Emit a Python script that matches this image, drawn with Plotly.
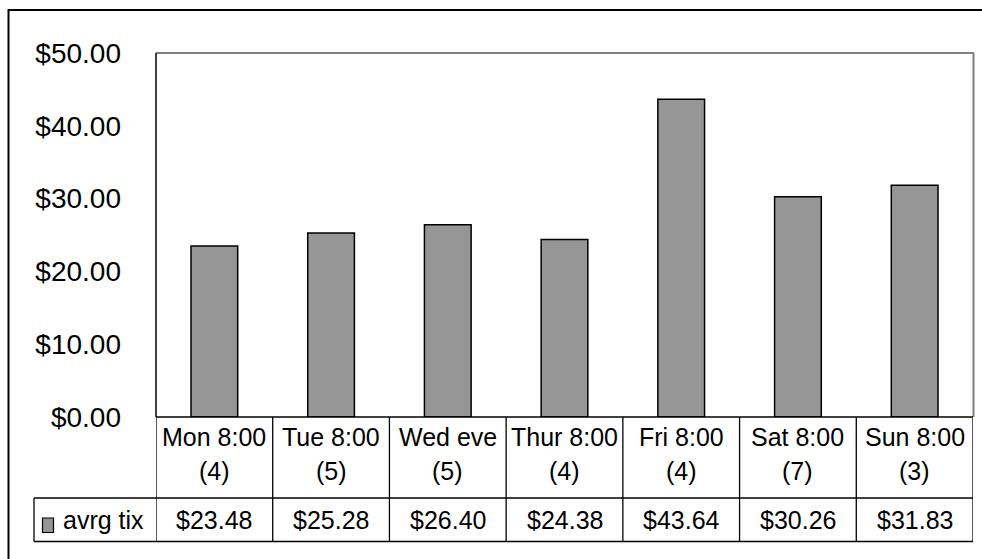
import plotly.graph_objects as go

categories = ["Mon 8:00", "Tue 8:00", "Wed eve", "Thur 8:00", "Fri 8:00", "Sat 8:00", "Sun 8:00"]
counts = [4, 5, 5, 4, 4, 7, 3]
avg_tix = [23.48, 25.28, 26.40, 24.38, 43.64, 30.26, 31.83]
series_name = "avrg tix"
y_ticks = [0, 10, 20, 30, 40, 50]

W, H = 982, 559
L, R, T, B = 156, 973, 53, 417
FONT = "Liberation Sans, Arial, sans-serif"


def px(x):
    return (x - L) / (R - L)


def py(y):
    return (B - y) / (B - T)


fig = go.Figure()
fig.add_trace(go.Bar(
    x=categories, y=avg_tix, name=series_name,
    marker=dict(color="#969696", line=dict(color="black", width=1.5)),
    showlegend=False,
))

shapes = []
# outer chart border
shapes.append(dict(type="rect", xref="paper", yref="paper",
                   x0=px(8.5), x1=px(1100), y0=py(10), y1=py(700),
                   line=dict(color="black", width=2), layer="below"))
# plot area border (top/right gray)
shapes.append(dict(type="line", xref="paper", yref="paper", x0=0, x1=px(974), y0=1, y1=1,
                   line=dict(color="#808080", width=2)))
shapes.append(dict(type="line", xref="paper", yref="paper", x0=px(973.5), x1=px(973.5), y0=0, y1=1,
                   line=dict(color="#808080", width=2)))
# left axis
shapes.append(dict(type="line", xref="paper", yref="paper", x0=0, x1=0, y0=0, y1=1,
                   line=dict(color="black", width=1.5)))
# table horizontal lines
for yy, x0 in [(417, 156), (498, 34), (541.5, 34)]:
    shapes.append(dict(type="line", xref="paper", yref="paper",
                       x0=px(x0), x1=px(973), y0=py(yy), y1=py(yy),
                       line=dict(color="black", width=1.3)))
# table vertical lines
for i in range(len(categories) + 1):
    shapes.append(dict(type="line", xref="x", yref="paper",
                       x0=i - 0.5, x1=i - 0.5, y0=py(417), y1=py(541.5),
                       line=dict(color="black", width=1.3)))
shapes.append(dict(type="line", xref="paper", yref="paper",
                   x0=px(34), x1=px(34), y0=py(498), y1=py(541.5),
                   line=dict(color="black", width=1.3)))
# legend key
shapes.append(dict(type="rect", xref="paper", yref="paper",
                   x0=px(42.5), x1=px(53.5), y0=py(532.5), y1=py(518),
                   fillcolor="#969696", line=dict(color="black", width=1.2)))

annotations = []
for c, n, v in zip(categories, counts, avg_tix):
    annotations.append(dict(x=c, xref="x", y=py(437), yref="paper", text=c,
                            showarrow=False, yanchor="middle", xanchor="center",
                            font=dict(size=25, color="black", family=FONT)))
    annotations.append(dict(x=c, xref="x", y=py(471), yref="paper", text=f"({n})",
                            showarrow=False, yanchor="middle", xanchor="center",
                            font=dict(size=25, color="black", family=FONT)))
    annotations.append(dict(x=c, xref="x", y=py(520), yref="paper", text=f"${v:.2f}",
                            showarrow=False, yanchor="middle", xanchor="center",
                            font=dict(size=25, color="black", family=FONT)))
annotations.append(dict(x=px(61), xref="paper", y=py(520), yref="paper", text=series_name,
                        showarrow=False, yanchor="middle", xanchor="left",
                        font=dict(size=25, color="black", family=FONT)))

fig.update_layout(
    width=W, height=H,
    margin=dict(l=L, r=W - R, t=T, b=H - B, pad=0),
    paper_bgcolor="white", plot_bgcolor="white",
    bargap=0.6,
    showlegend=False,
    hovermode=False,
    xaxis=dict(showticklabels=False, showgrid=False, zeroline=False, showline=False,
               ticks="", range=[-0.5, 6.5]),
    yaxis=dict(range=[0, 50], tickvals=y_ticks, tickformat="$.2f", showgrid=False,
               zeroline=False, showline=False, ticks="",
               ticklabelstandoff=34,
               tickfont=dict(size=28, color="black", family=FONT)),
    shapes=shapes,
    annotations=annotations,
)

fig.write_html(
    "out.html",
    config={"displayModeBar": False},
    post_script="document.body.style.margin='0';document.body.style.overflow='hidden';",
)
